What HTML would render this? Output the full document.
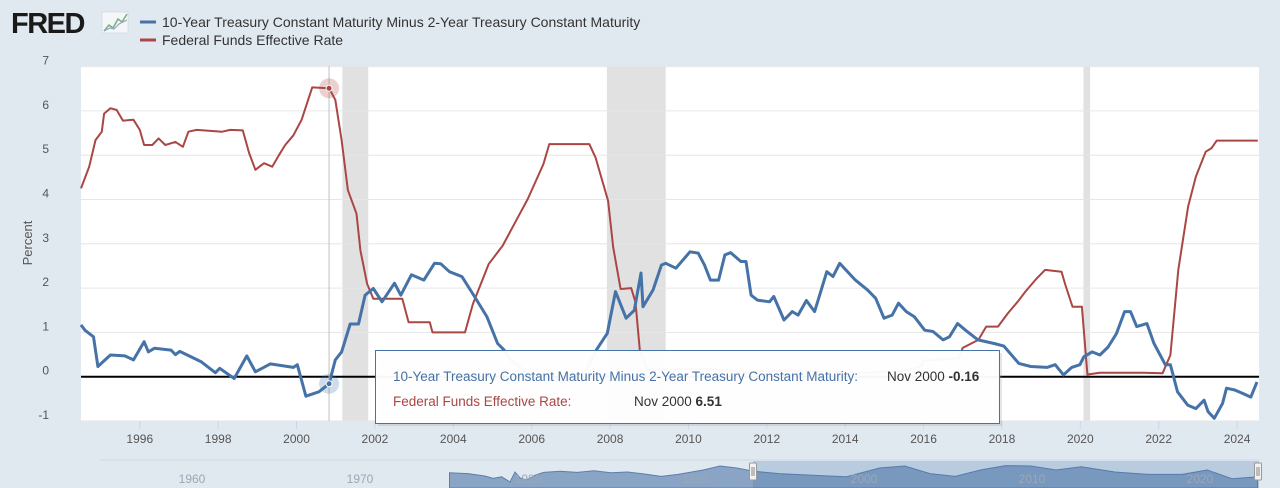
<!DOCTYPE html>
<html><head><meta charset="utf-8">
<style>
html,body{margin:0;padding:0;background:#e1e9f0;width:1280px;height:488px;overflow:hidden;font-family:"Liberation Sans",sans-serif;}
svg{display:block;}
</style></head>
<body>
<svg id="chart" width="1280" height="488">
  <rect x="0" y="0" width="1280" height="488" fill="#e1e9f0"/>
  <g>
    <text x="11" y="33" font-size="29" font-weight="bold" fill="#1a1a1a" font-family="Liberation Sans, sans-serif" letter-spacing="-1.5">FRED</text>
    <rect x="102" y="12" width="26" height="21" fill="#f4f6f8" stroke="#cdd6de" stroke-width="0.6"/>
    <polyline points="104,31 109,25 113,28 118,19 122,22 127,14" fill="none" stroke="#7bb07a" stroke-width="1.5"/>
    <polyline points="104,31 110,28 114,29 119,24 127,20" fill="none" stroke="#8fa9c8" stroke-width="1.2"/>
  </g>
  <g>
    <g>
      <line x1="140" y1="22" x2="156" y2="22" stroke="#4572a7" stroke-width="3"/>
      <text x="162" y="27" font-size="14" fill="#333">10-Year Treasury Constant Maturity Minus 2-Year Treasury Constant Maturity</text>
    </g>
    <g>
      <line x1="140" y1="40" x2="156" y2="40" stroke="#aa4643" stroke-width="3"/>
      <text x="162" y="45" font-size="14" fill="#333">Federal Funds Effective Rate</text>
    </g>
  </g>
  <rect x="81" y="66" width="1178" height="355" fill="#ffffff"/>
  <g id="recessions"></g>
  <g id="grid"></g>
  <g id="yaxis"></g>
  <g id="xaxis"></g>
  <g id="series"></g>
  <g id="cursor"></g>
  <g id="nav"></g>
  <text x="32" y="243" font-size="13" fill="#555" text-anchor="middle" transform="rotate(-90 32 243)">Percent</text>
  <g>
    <rect x="378" y="353" width="624" height="73" fill="#999" opacity="0.25"/>
    <rect x="375.5" y="350.5" width="624" height="73" fill="#ffffff" fill-opacity="0.96" stroke="#4572a7" stroke-width="1"/>
    <text x="393" y="381" font-size="13.5" fill="#4572a7">10-Year Treasury Constant Maturity Minus 2-Year Treasury Constant Maturity:</text>
    <text x="887" y="381" font-size="13.5" fill="#333">Nov 2000 <tspan font-weight="bold">-0.16</tspan></text>
    <text x="393" y="406" font-size="13.5" fill="#aa4643">Federal Funds Effective Rate:</text>
    <text x="634" y="406" font-size="13.5" fill="#333">Nov 2000 <tspan font-weight="bold">6.51</tspan></text>
  </g>
</svg>
<script>
// ---- data ----
const spreadDates = [1994.50,1994.6,1994.82,1994.93,1995.25,1995.62,1995.84,1996.11,1996.22,1996.37,1996.8,1996.91,1997.02,1997.56,1997.93,1998.04,1998.41,1998.73,1998.95,1999.33,1999.92,2000.02,2000.24,2000.57,2000.83,2000.99,2001.15,2001.37,2001.58,2001.75,2001.96,2002.18,2002.5,2002.66,2002.93,2003.25,2003.52,2003.68,2003.9,2004.22,2004.54,2004.86,2005.13,2005.3,2005.5,2005.8,2006.0,2006.2,2006.5,2006.9,2007.2,2007.4,2007.65,2007.93,2008.14,2008.41,2008.62,2008.79,2008.84,2009.1,2009.31,2009.42,2009.68,2010.04,2010.25,2010.41,2010.56,2010.77,2010.93,2011.08,2011.34,2011.47,2011.6,2011.76,2012.07,2012.18,2012.44,2012.65,2012.8,2013.01,2013.22,2013.53,2013.69,2013.86,2014.26,2014.57,2014.78,2014.99,2015.2,2015.36,2015.56,2015.77,2016.03,2016.24,2016.5,2016.66,2016.87,2017.07,2017.39,2017.8,2018.05,2018.43,2018.74,2019.15,2019.36,2019.57,2019.78,2019.99,2020.09,2020.3,2020.5,2020.71,2020.92,2021.13,2021.28,2021.44,2021.7,2021.88,2022.17,2022.3,2022.48,2022.74,2022.95,2023.16,2023.26,2023.42,2023.63,2023.73,2023.94,2024.15,2024.35,2024.51];
const spreadValues = [1.17,1.05,0.90,0.23,0.49,0.47,0.38,0.79,0.56,0.64,0.60,0.50,0.57,0.34,0.09,0.19,-0.04,0.47,0.11,0.29,0.21,0.27,-0.44,-0.34,-0.16,0.38,0.56,1.19,1.19,1.84,1.99,1.69,2.11,1.84,2.30,2.18,2.56,2.55,2.37,2.26,1.81,1.35,0.75,0.60,0.35,0.15,0.00,0.05,-0.05,-0.12,0.00,0.15,0.60,0.98,1.92,1.32,1.50,2.34,1.58,1.96,2.52,2.56,2.45,2.82,2.79,2.52,2.18,2.18,2.75,2.80,2.60,2.60,1.84,1.73,1.69,1.81,1.28,1.47,1.39,1.72,1.47,2.37,2.26,2.56,2.18,1.96,1.77,1.32,1.39,1.66,1.47,1.35,1.05,1.02,0.83,0.90,1.20,1.05,0.83,0.75,0.69,0.30,0.23,0.21,0.27,0.04,0.21,0.27,0.45,0.56,0.49,0.67,0.97,1.47,1.47,1.13,1.20,0.75,0.27,0.27,-0.34,-0.64,-0.72,-0.53,-0.79,-0.94,-0.60,-0.26,-0.30,-0.38,-0.46,-0.12];
const fedDates = [1994.50,1994.71,1994.87,1995.03,1995.09,1995.25,1995.41,1995.57,1995.84,1996.0,1996.11,1996.32,1996.48,1996.65,1996.91,1997.1,1997.24,1997.45,1998.1,1998.31,1998.63,1998.79,1998.95,1999.17,1999.38,1999.55,1999.71,1999.92,2000.13,2000.4,2000.83,2000.99,2001.15,2001.31,2001.53,2001.63,2001.8,2001.96,2002.7,2002.86,2003.4,2003.47,2004.3,2004.5,2004.9,2005.26,2005.6,2005.9,2006.3,2006.45,2007.47,2007.63,2007.95,2008.08,2008.27,2008.54,2008.65,2008.76,2008.95,2009.5,2010.5,2011.5,2012.5,2013.5,2014.5,2015.5,2015.95,2016.0,2016.9,2017.0,2017.4,2017.6,2017.9,2018.15,2018.4,2018.6,2018.85,2019.1,2019.52,2019.62,2019.8,2020.04,2020.18,2020.5,2021.5,2022.1,2022.3,2022.5,2022.75,2022.95,2023.2,2023.35,2023.48,2024.53];
const fedValues = [4.25,4.74,5.34,5.53,5.94,6.06,6.02,5.78,5.80,5.57,5.23,5.23,5.38,5.23,5.30,5.19,5.53,5.57,5.53,5.57,5.56,5.05,4.67,4.82,4.74,5.00,5.23,5.45,5.80,6.53,6.51,6.25,5.34,4.21,3.68,2.85,2.10,1.76,1.76,1.23,1.23,1.00,1.00,1.64,2.54,2.96,3.52,4.01,4.80,5.25,5.25,4.95,3.97,2.92,1.98,2.00,1.68,0.60,0.16,0.16,0.18,0.10,0.14,0.11,0.09,0.13,0.24,0.36,0.41,0.65,0.83,1.13,1.13,1.43,1.69,1.92,2.18,2.41,2.37,2.07,1.58,1.58,0.05,0.09,0.09,0.08,0.49,2.41,3.84,4.52,5.08,5.16,5.33,5.33];
const recessionStarts = [2001.17,2007.92,2020.08];
const recessionEnds = [2001.83,2009.42,2020.25];
const yTicks = [-1,0,1,2,3,4,5,6,7];
const xTicks = [1996,1998,2000,2002,2004,2006,2008,2010,2012,2014,2016,2018,2020,2022,2024];
const navLabels = [1960,1970,1980,1990,2000,2010,2020];
const navDates = [1976.4,1977.5,1978.5,1979,1979.5,1980,1980.3,1980.6,1981,1981.5,1982,1983,1984,1985,1986,1987,1988,1989,1990,1991.5,1992.5,1993.5,1994.5,1996,1998,2000,2002,2003.5,2005,2006.5,2008,2009.5,2011,2012.5,2014,2016,2018,2020,2021.5,2023,2024.5];
const navValues = [0.8,0.6,0.0,-0.6,-0.2,-1.5,1.0,-0.5,-1.0,0.2,0.9,1.2,0.9,1.3,0.8,1.0,0.5,-0.1,0.4,1.5,2.5,2.0,1.2,0.6,0.2,-0.2,2.0,2.5,0.6,-0.1,1.5,2.6,2.5,1.5,2.3,1.0,0.4,0.4,1.5,-0.7,-0.2];
// ---- scales ----
const X0=81, X1=1259, Y0=66, Y1=421;
const T0=1994.5, T1=2024.56;
function xs(t){return X0+(t-T0)/(T1-T0)*(X1-X0);}
function ys(v){return 376.7-v*44.3;}
const NS='http://www.w3.org/2000/svg';
function mk(tag,attrs,parent){const e=document.createElementNS(NS,tag);for(const k in attrs)e.setAttribute(k,attrs[k]);parent.appendChild(e);return e;}
// recessions
const rg=document.getElementById('recessions');
recessionStarts.forEach((s,i)=>{
  const r=mk('rect',{x:xs(s),y:Y0,width:xs(recessionEnds[i])-xs(s),height:Y1-Y0,fill:'#e1e1e1'},rg);
  
  
});
// grid + y labels
const gg=document.getElementById('grid'), ya=document.getElementById('yaxis');
yTicks.forEach(v=>{
  if(v!==0){const l=mk('line',{x1:X0,x2:X1,y1:ys(v),y2:ys(v),stroke:'#e6e6e6','stroke-width':1},gg);
  
  }
  const t=mk('text',{x:49,y:ys(v)-2,'font-size':12,fill:'#555','text-anchor':'end'},ya);
  t.textContent=v;
  
  
});
// x axis
const xa=document.getElementById('xaxis');
xTicks.forEach(yr=>{
  const x=xs(yr);
  const tk=mk('line',{x1:x,x2:x,y1:Y1,y2:Y1+8,stroke:'#ccd6eb','stroke-width':1},xa);
  
  
  const t=mk('text',{x:x,y:443,'font-size':12,fill:'#555','text-anchor':'middle'},xa);
  t.textContent=yr;
  
  
});
// series
const sg=document.getElementById('series');
const zl=mk('line',{x1:X0,x2:X1,y1:ys(0),y2:ys(0),stroke:'#000','stroke-width':2},sg);


function pathOf(ds,vs){return ds.map((d,i)=>(i?'L':'M')+xs(d).toFixed(1)+','+ys(vs[i]).toFixed(1)).join('');}
const fp=mk('path',{d:pathOf(fedDates,fedValues),fill:'none',stroke:'#aa4643','stroke-width':2,'stroke-linejoin':'round'},sg);


const sp=mk('path',{d:pathOf(spreadDates,spreadValues),fill:'none',stroke:'#4572a7','stroke-width':3,'stroke-linejoin':'round'},sg);


// cursor
const cg=document.getElementById('cursor');
const ct=2000.83, cx=xs(ct);
const cl=mk('line',{x1:cx,x2:cx,y1:Y0,y2:Y1,stroke:'#c0c0c0','stroke-width':1},cg);


[[6.51,'#aa4643'],[-0.16,'#4572a7']].forEach(([v,c])=>{
  const h=mk('circle',{cx:cx,cy:ys(v),r:10,fill:c,'fill-opacity':0.25},cg);
  
  
  const d=mk('circle',{cx:cx,cy:ys(v),r:3,fill:c,stroke:'#fff','stroke-width':1},cg);
  
  
});
// navigator
const ng=document.getElementById('nav');
function nx(t){return 174+(t-1960)*16.8;}
function ny(v){return 476-v*4;}
const nl=mk('line',{x1:100,x2:1259,y1:460,y2:460,stroke:'#cfd8e3','stroke-width':1},ng);


let nd='M'+nx(navDates[0])+',488 '+navDates.map((d,i)=>'L'+nx(d).toFixed(1)+','+ny(navValues[i]).toFixed(1)).join(' ')+' L'+nx(navDates[navDates.length-1])+',488Z';
const na=mk('path',{d:nd,fill:'#8aa4c6',stroke:'#5a7fae','stroke-width':1},ng);


const sel=mk('rect',{x:753,y:461,width:1259-753,height:27,fill:'#4572a7','fill-opacity':0.25},ng);


navLabels.forEach(yr=>{
  const t=mk('text',{x:nx(yr)+18,y:483,'font-size':12,fill:'#9aa7b5','text-anchor':'middle'},ng);
  t.textContent=yr;
  
  
});
[753,1258].forEach(x=>{
  const h=mk('rect',{x:x-3.5,y:463,width:7,height:17,fill:'#f2f2f2',stroke:'#999','stroke-width':1,rx:1},ng);
  
  
  mk('line',{x1:x-1,x2:x-1,y1:467,y2:476,stroke:'#888'},ng);
  mk('line',{x1:x+1,x2:x+1,y1:467,y2:476,stroke:'#888'},ng);
});
</script>
</body></html>
